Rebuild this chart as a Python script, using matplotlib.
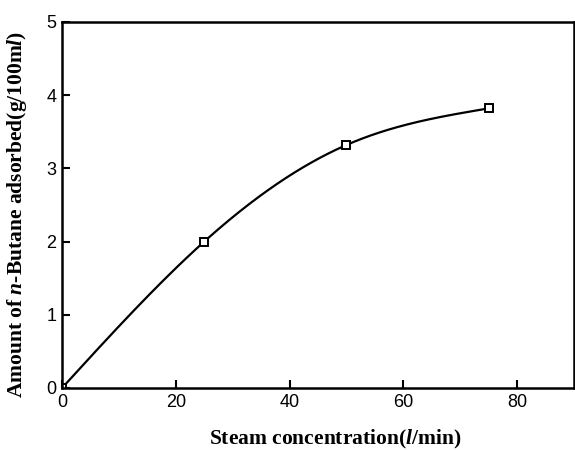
import matplotlib
matplotlib.use("Agg")
import matplotlib.pyplot as plt
import numpy as np

steam = [0, 25, 50, 75]
butane = [0.0, 2.0, 3.32, 3.82]

plt.rcParams["mathtext.fontset"] = "custom"
plt.rcParams["mathtext.rm"] = "Liberation Serif:bold"
plt.rcParams["mathtext.it"] = "Liberation Serif:italic:bold"
plt.rcParams["mathtext.bf"] = "Liberation Serif:bold"


def natural_spline(x, y, n=200):
    # smooth line through the measured points (natural cubic spline)
    x = np.asarray(x, float)
    y = np.asarray(y, float)
    k = len(x)
    h = np.diff(x)
    A = np.zeros((k, k))
    b = np.zeros(k)
    A[0, 0] = A[-1, -1] = 1
    for i in range(1, k - 1):
        A[i, i - 1] = h[i - 1]
        A[i, i] = 2 * (h[i - 1] + h[i])
        A[i, i + 1] = h[i]
        b[i] = 6 * ((y[i + 1] - y[i]) / h[i] - (y[i] - y[i - 1]) / h[i - 1])
    m = np.linalg.solve(A, b)
    xs = np.linspace(x[0], x[-1], n)
    idx = np.clip(np.searchsorted(x, xs) - 1, 0, k - 2)
    x0, x1 = x[idx], x[idx + 1]
    hh = x1 - x0
    t0, t1 = x1 - xs, xs - x0
    ys = (m[idx] * t0**3 + m[idx + 1] * t1**3) / (6 * hh) \
        + (y[idx] / hh - m[idx] * hh / 6) * t0 \
        + (y[idx + 1] / hh - m[idx + 1] * hh / 6) * t1
    return xs, ys


fig = plt.figure(figsize=(5.75, 4.5), dpi=100)
ax = fig.add_axes([62 / 575, 62 / 450, 512 / 575, 366 / 450])

xs, ys = natural_spline(steam, butane)
ax.plot(xs, ys, color="black", lw=1.6)
ax.plot(steam, butane, ls="none", marker="s", ms=5.5, mfc="white",
        mec="black", mew=1.4)

ax.set_xlim(0, 90)
ax.set_ylim(0, 5)
ax.set_xticks([0, 20, 40, 60, 80])
ax.set_yticks([0, 1, 2, 3, 4, 5])
ax.tick_params(direction="in", length=6, width=1.5, labelsize=13,
               top=False, right=False, pad=4)
for lab in ax.get_xticklabels() + ax.get_yticklabels():
    lab.set_fontfamily("Liberation Sans")
for s in ax.spines.values():
    s.set_linewidth(1.8)

ax.set_xlabel(r"Steam concentration($\mathit{l}$/min)", fontsize=15.5,
              family="Liberation Serif", fontweight="bold")
ax.set_ylabel(r"Amount of $\mathit{n}$-Butane adsorbed(g/100m$\mathit{l}$)",
              fontsize=15.5, family="Liberation Serif", fontweight="bold")
ax.xaxis.set_label_coords(0.533, -0.108)
ax.yaxis.set_label_coords(-0.064, 0.475)

fig.savefig("out.png", dpi=100)
plt.close(fig)
